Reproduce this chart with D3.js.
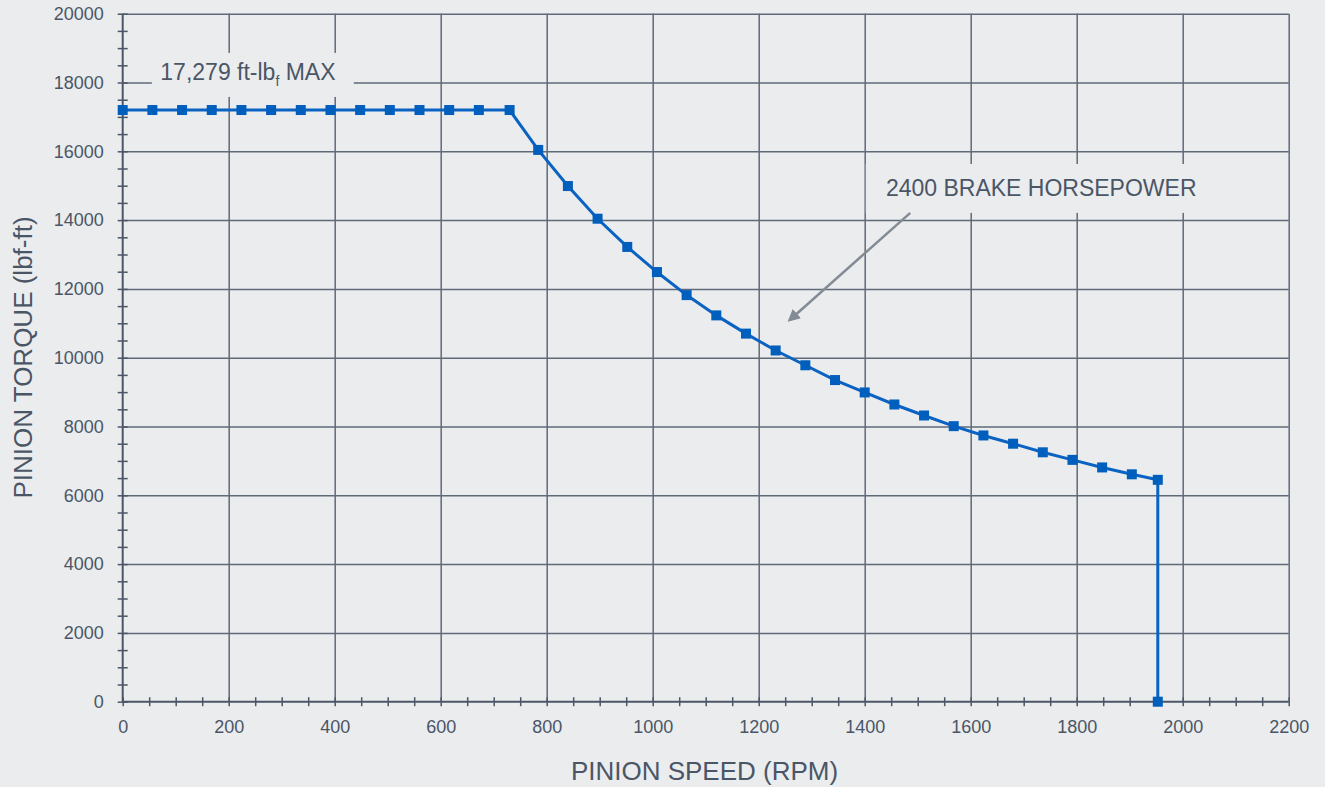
<!DOCTYPE html>
<html>
<head>
<meta charset="utf-8">
<script src="https://cdn.jsdelivr.net/npm/d3@7"></script>
<style>
  body { margin: 0; background: #ebecee; }
  svg { display: block; font-family: "Liberation Sans", Arial, sans-serif; }
  .grid line { stroke: #5f6a78; stroke-width: 1.5; }
  .grid .domain { display: none; }
  .tick-marks line { stroke: #4b5767; stroke-width: 1.5; }
  .tick-marks .domain { display: none; }
  .tick-labels .domain { display: none; }
  .tick-labels text { fill: #4a5666; font-size: 18px; }
  .axis-line { stroke: #4b5767; stroke-width: 2; }
  .axis-title { fill: #4a5666; font-size: 26px; }
  .note { fill: #4a5666; font-size: 23px; }
  .curve { fill: none; stroke: #0a62c2; stroke-width: 3; }
  .dot { fill: #005ebd; }
</style>
</head>
<body>
<div id="wrapper"></div>
<script>
// pinion speed (RPM) and pinion torque (lbf-ft)
const speedRpm = [
  0, 56, 112, 168, 224, 280, 336, 392, 448, 504, 560, 616, 672, 730,
  784, 840, 896, 952, 1008, 1064, 1120, 1176, 1232, 1288, 1344, 1400,
  1456, 1512, 1568, 1624, 1680, 1736, 1792, 1848, 1904, 1953, 1953,
]
const torqueLbfFt = [
  17200, 17200, 17200, 17200, 17200, 17200, 17200, 17200, 17200, 17200, 17200, 17200, 17200, 17200,
  16040, 14990, 14040, 13220, 12490, 11820, 11230, 10700, 10210, 9780, 9350, 8990,
  8640, 8320, 8010, 7740, 7500, 7250, 7030, 6810, 6610, 6450, 0,
]

const xTickValues = [0, 200, 400, 600, 800, 1000, 1200, 1400, 1600, 1800, 2000, 2200]
const yTickValues = [0, 2000, 4000, 6000, 8000, 10000, 12000, 14000, 16000, 18000, 20000]

const xTitle = "PINION SPEED (RPM)"
const yTitle = "PINION TORQUE (lbf-ft)"
const maxNote = ["17,279 ft-lb", "f", " MAX"]
const hpNote = "2400 BRAKE HORSEPOWER"

function drawChart() {

  const dataset = speedRpm.map((s, i) => ({ speed: s, torque: torqueLbfFt[i] }))
  const xAccessor = d => d.speed
  const yAccessor = d => d.torque

  // dimensions
  let dimensions = {
    width: 1325,
    height: 787,
    margin: { top: 13.7, right: 36.3, bottom: 85.3, left: 122.7 },
  }
  dimensions.boundedWidth = dimensions.width - dimensions.margin.left - dimensions.margin.right
  dimensions.boundedHeight = dimensions.height - dimensions.margin.top - dimensions.margin.bottom

  const wrapper = d3.select("#wrapper")
    .append("svg")
      .attr("width", dimensions.width)
      .attr("height", dimensions.height)

  wrapper.append("rect")
      .attr("width", dimensions.width)
      .attr("height", dimensions.height)
      .attr("fill", "#ebecee")

  const bounds = wrapper.append("g")
      .attr("transform", `translate(${dimensions.margin.left},${dimensions.margin.top})`)

  // scales
  const xScale = d3.scaleLinear()
    .domain([0, 2200])
    .range([0, dimensions.boundedWidth])

  const yScale = d3.scaleLinear()
    .domain([0, 20000])
    .range([dimensions.boundedHeight, 0])

  // grid
  bounds.append("g")
      .attr("class", "grid")
      .call(d3.axisBottom(xScale)
        .tickValues(xTickValues.slice(1))
        .tickSize(dimensions.boundedHeight)
        .tickFormat(""))

  bounds.append("g")
      .attr("class", "grid")
      .call(d3.axisLeft(yScale)
        .tickValues(yTickValues.slice(1))
        .tickSize(-dimensions.boundedWidth)
        .tickFormat(""))

  // boxes behind the notes hide the grid
  const bg = "#ebecee"
  bounds.append("rect")
      .attr("x", xScale(55))
      .attr("y", yScale(18860))
      .attr("width", xScale(436) - xScale(55))
      .attr("height", yScale(17580) - yScale(18860))
      .attr("fill", bg)
  bounds.append("rect")
      .attr("x", xScale(1402))
      .attr("y", yScale(15630))
      .attr("width", xScale(2196) - xScale(1402))
      .attr("height", yScale(14210) - yScale(15630))
      .attr("fill", bg)

  // axis lines + crossing ticks
  bounds.append("line")
      .attr("class", "axis-line")
      .attr("x1", 0).attr("x2", dimensions.boundedWidth)
      .attr("y1", dimensions.boundedHeight).attr("y2", dimensions.boundedHeight)
  bounds.append("line")
      .attr("class", "axis-line")
      .attr("x1", 0).attr("x2", 0)
      .attr("y1", 0).attr("y2", dimensions.boundedHeight)

  bounds.append("g")
      .attr("class", "tick-marks")
      .attr("transform", `translate(0,${dimensions.boundedHeight - 4.5})`)
      .call(d3.axisBottom(xScale)
        .tickValues(d3.range(0, 2201, 50))
        .tickSize(9)
        .tickFormat(""))

  bounds.append("g")
      .attr("class", "tick-marks")
      .attr("transform", "translate(5,0)")
      .call(d3.axisLeft(yScale)
        .tickValues(d3.range(0, 20001, 500))
        .tickSize(10)
        .tickFormat(""))

  // tick labels
  const xLabels = bounds.append("g")
      .attr("class", "tick-labels")
      .attr("transform", `translate(0,${dimensions.boundedHeight})`)
      .call(d3.axisBottom(xScale)
        .tickValues(xTickValues)
        .tickSize(0)
        .tickFormat(d3.format("d")))
  xLabels.selectAll("text")
      .attr("y", 31)
      .attr("dy", null)

  bounds.append("g")
      .attr("class", "tick-labels")
      .call(d3.axisLeft(yScale)
        .tickValues(yTickValues)
        .tickSize(0)
        .tickPadding(19)
        .tickFormat(d3.format("d")))

  // axis titles
  wrapper.append("text")
      .attr("class", "axis-title")
      .attr("x", 704.5)
      .attr("y", 780)
      .attr("text-anchor", "middle")
      .text(xTitle)

  wrapper.append("text")
      .attr("class", "axis-title")
      .attr("transform", "translate(32,357.5) rotate(-90)")
      .attr("text-anchor", "middle")
      .text(yTitle)

  // data
  const lineGenerator = d3.line()
    .x(d => xScale(xAccessor(d)))
    .y(d => yScale(yAccessor(d)))

  bounds.append("path")
      .attr("class", "curve")
      .attr("d", lineGenerator(dataset))

  bounds.selectAll(".dot")
    .data(dataset)
    .enter().append("rect")
      .attr("class", "dot")
      .attr("x", d => xScale(xAccessor(d)) - 5)
      .attr("y", d => yScale(yAccessor(d)) - 5)
      .attr("width", 10)
      .attr("height", 10)

  // notes
  const note1 = bounds.append("text")
      .attr("class", "note")
      .attr("x", xScale(71))
      .attr("y", yScale(18070))
  note1.append("tspan").text(maxNote[0])
  note1.append("tspan")
      .attr("font-size", 14)
      .attr("dy", 6)
      .text(maxNote[1])
  note1.append("tspan")
      .attr("dy", -6)
      .text(maxNote[2])

  bounds.append("text")
      .attr("class", "note")
      .attr("x", xScale(1440))
      .attr("y", yScale(14690))
      .text(hpNote)

  // arrow
  const defs = wrapper.append("defs")
  defs.append("marker")
      .attr("id", "arrowhead")
      .attr("viewBox", "0 0 10 10")
      .attr("refX", 8)
      .attr("refY", 5)
      .attr("markerWidth", 5)
      .attr("markerHeight", 5)
      .attr("markerUnits", "strokeWidth")
      .attr("orient", "auto")
    .append("path")
      .attr("d", "M0,0 L10,5 L0,10 Z")
      .attr("fill", "#838c95")

  bounds.append("line")
      .attr("x1", xScale(1486))
      .attr("y1", yScale(14210))
      .attr("x2", xScale(1258))
      .attr("y2", yScale(11090))
      .attr("stroke", "#838c95")
      .attr("stroke-width", 2.5)
      .attr("marker-end", "url(#arrowhead)")
}
drawChart()
</script>
</body>
</html>
